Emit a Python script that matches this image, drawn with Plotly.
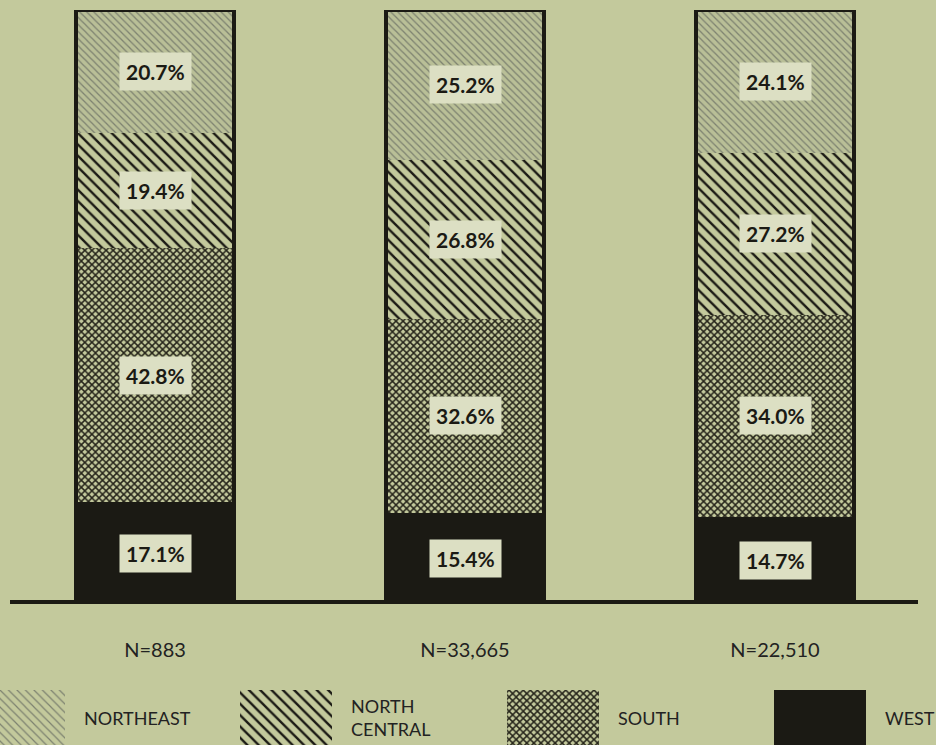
import plotly.graph_objects as go

# ---- data ----
groups = ["N=883", "N=33,665", "N=22,510"]
regions = ["NORTHEAST", "NORTH CENTRAL", "SOUTH", "WEST"]
legend_labels = ["NORTHEAST", "NORTH<br>CENTRAL", "SOUTH", "WEST"]
west = [17.1, 15.4, 14.7]
south = [42.8, 32.6, 34.0]
north_central = [19.4, 26.8, 27.2]
northeast = [20.7, 25.2, 24.1]
legend_swatch = [1, 1, 1, 1]

BG = "#c3c99c"
INK = "#1b1a14"
BOX = "#dcdfc3"
W, H = 936, 745

# stacking order bottom -> top
stack = [("WEST", west), ("SOUTH", south), ("NORTH CENTRAL", north_central), ("NORTHEAST", northeast)]
styles = {
    "NORTHEAST": dict(shape="\\", fgcolor="#7d8270", bgcolor="#b9bf97", size=5, solidity=0.25),
    "NORTH CENTRAL": dict(shape="\\", fgcolor=INK, bgcolor=BG, size=8, solidity=0.3),
    "SOUTH": dict(shape="x", fgcolor="#25241a", bgcolor=BG, size=5, solidity=0.5),
    "WEST": dict(shape="", fgcolor=INK, bgcolor=INK, size=6, solidity=1),
}

fig = go.Figure()
BAR_W = 0.51
for name, vals in stack:
    st = styles[name]
    fig.add_trace(go.Bar(
        x=groups, y=vals, name=name, width=BAR_W,
        marker=dict(color=INK if name == "WEST" else st["bgcolor"],
                    line=dict(width=0),
                    pattern=dict(shape=st["shape"], fgcolor=st["fgcolor"],
                                 bgcolor=st["bgcolor"], size=st["size"],
                                 solidity=st["solidity"], fillmode="replace")),
        showlegend=False, hoverinfo="skip", xaxis="x", yaxis="y",
    ))

# outline of whole bar
totals = [sum(v) for v in zip(west, south, north_central, northeast)]
fig.add_trace(go.Bar(x=groups, y=totals, width=BAR_W, base=[0] * 3,
                     marker=dict(color="rgba(0,0,0,0)", line=dict(color=INK, width=3.5)),
                     showlegend=False, hoverinfo="skip", xaxis="x", yaxis="y"))

# value labels in boxes
for i, g in enumerate(groups):
    cum = 0
    for name, vals in stack:
        v = vals[i]
        fig.add_annotation(x=g, y=cum + v / 2, xref="x", yref="y",
                           text=f"<b>{v:.1f}%</b>", showarrow=False,
                           font=dict(family="Lato", size=21, color=INK),
                           bgcolor=BOX, borderpad=6)
        cum += v

# legend swatches as bars in a second subplot
for i, name in enumerate(regions):
    st = styles[name]
    fig.add_trace(go.Bar(
        x=[name], y=[legend_swatch[i]], width=0.345,
        marker=dict(color=INK if name == "WEST" else st["bgcolor"], line=dict(width=0),
                    pattern=dict(shape=st["shape"], fgcolor=st["fgcolor"],
                                 bgcolor=BG if name == "NORTHEAST" else st["bgcolor"],
                                 size=st["size"] + (1 if name == "NORTHEAST" else 0),
                                 solidity=0.2 if name == "NORTHEAST" else st["solidity"],
                                 fillmode="replace")),
        showlegend=False, hoverinfo="skip", xaxis="x2", yaxis="y2",
    ))
    fig.add_annotation(x=i + 0.345 / 2 + 0.064, y=0.5, xref="x2", yref="y2",
                       text=legend_labels[i], showarrow=False, xanchor="left",
                       align="left",
                       font=dict(family="Lato", size=18, color="#222"))

# baseline
fig.add_shape(type="line", xref="paper", yref="y", x0=10 / W, x1=918 / W, y0=0, y1=0,
              line=dict(color=INK, width=8))

unit2 = 267
r0 = -19 / unit2
fig.update_layout(
    width=W, height=H, margin=dict(l=0, r=0, t=0, b=0),
    paper_bgcolor=BG, plot_bgcolor=BG, barmode="stack",
    xaxis=dict(domain=[0, 930 / W], range=[-0.5, 2.5], showgrid=False, zeroline=False,
               showline=False, ticks="", ticklabelstandoff=32,
               tickfont=dict(family="Lato", size=20, color="#222"), fixedrange=True),
    yaxis=dict(domain=[(H - 604) / H, (H - 10) / H], range=[0, 100], visible=False),
    xaxis2=dict(domain=[0, 1], range=[r0, r0 + W / unit2], visible=False,
                anchor="y2"),
    yaxis2=dict(domain=[0, (H - 690) / H], range=[0, 1], visible=False, anchor="x2"),
)

fig.write_html("out.html")
